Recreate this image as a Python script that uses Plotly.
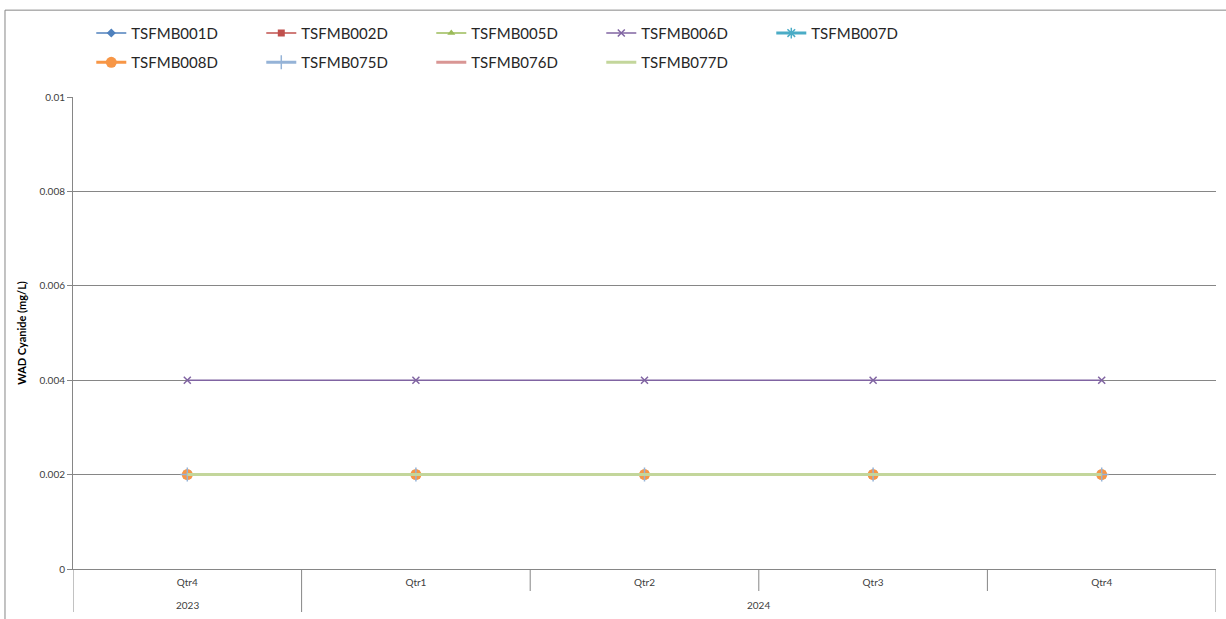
import plotly.graph_objects as go

# Sampling periods (year, quarter)
years = ["2023", "2024", "2024", "2024", "2024"]
quarters = ["Qtr4", "Qtr1", "Qtr2", "Qtr3", "Qtr4"]

# WAD cyanide results per monitoring bore (mg/L)
TSFMB001D = [0.002, 0.002, 0.002, 0.002, 0.002]
TSFMB002D = [0.002, 0.002, 0.002, 0.002, 0.002]
TSFMB005D = [0.002, 0.002, 0.002, 0.002, 0.002]
TSFMB006D = [0.004, 0.004, 0.004, 0.004, 0.004]
TSFMB007D = [0.002, 0.002, 0.002, 0.002, 0.002]
TSFMB008D = [0.002, 0.002, 0.002, 0.002, 0.002]
TSFMB075D = [0.002, 0.002, 0.002, 0.002, 0.002]
TSFMB076D = [0.002, 0.002, 0.002, 0.002, 0.002]
TSFMB077D = [0.002, 0.002, 0.002, 0.002, 0.002]

yticks = [0, 0.002, 0.004, 0.006, 0.008, 0.01]
ytick_text = ["0", "0.002", "0.004", "0.006", "0.008", "0.01"]

series = [
    ("TSFMB001D", TSFMB001D, "#4F81BD", 1.5, dict(symbol="diamond", size=7), "legend"),
    ("TSFMB002D", TSFMB002D, "#C0504D", 1.5, dict(symbol="square", size=7), "legend"),
    ("TSFMB005D", TSFMB005D, "#9BBB59", 1.5, dict(symbol="triangle-up", size=7), "legend"),
    ("TSFMB006D", TSFMB006D, "#8064A2", 1.5, dict(symbol="x-thin-open", size=7, line=dict(width=1.5, color="#8064A2")), "legend"),
    ("TSFMB007D", TSFMB007D, "#4BACC6", 3, dict(symbol="asterisk-open", size=9, line=dict(width=1.5, color="#4BACC6")), "legend"),
    ("TSFMB008D", TSFMB008D, "#F79646", 3, dict(symbol="circle", size=11), "legend2"),
    ("TSFMB075D", TSFMB075D, "#95B3D7", 3, dict(symbol="cross-thin-open", size=10, line=dict(width=1.5, color="#95B3D7")), "legend2"),
    ("TSFMB076D", TSFMB076D, "#D99694", 3, None, "legend2"),
    ("TSFMB077D", TSFMB077D, "#C3D69B", 3, None, "legend2"),
]

# category index along the x axis
idx = list(range(len(quarters)))

fig = go.Figure()
for name, vals, color, lw, marker, lg in series:
    fig.add_trace(go.Scatter(
        x=idx, y=vals, name=name, legend=lg,
        mode="lines+markers" if marker else "lines",
        line=dict(color=color, width=lw),
        marker=dict(color=color, **marker) if marker else None,
    ))

font = "Lato, 'Open Sans', sans-serif"
axis_grey = "#868686"
plot_h = 472  # plot area height in px, used for paper offsets below the axis

# two-level category axis: separators and year labels
shapes = []
annotations = []
inner_depth = -22 / plot_h
outer_depth = -43 / plot_h
for i in range(1, len(idx)):
    is_year_break = years[i] != years[i - 1]
    shapes.append(dict(type="line", xref="x", yref="paper",
                       x0=i - 0.5, x1=i - 0.5, y0=0,
                       y1=outer_depth if is_year_break else inner_depth,
                       line=dict(color=axis_grey, width=1)))
for edge in (idx[0] - 0.5, idx[-1] + 0.5):
    shapes.append(dict(type="line", xref="x", yref="paper",
                       x0=edge, x1=edge, y0=0, y1=outer_depth,
                       line=dict(color=axis_grey, width=1)))
for yr in dict.fromkeys(years):
    members = [i for i in idx if years[i] == yr]
    annotations.append(dict(xref="x", yref="paper",
                            x=sum(members) / len(members), y=-36 / plot_h,
                            text=yr, showarrow=False, yanchor="middle",
                            font=dict(family=font, size=10, color="#404040")))

# outer chart border
shapes.append(dict(type="rect", xref="paper", yref="paper",
                   x0=-0.0595, x1=1.2, y0=-0.3, y1=1.184,
                   line=dict(color=axis_grey, width=1), layer="below"))

legend_style = dict(
    orientation="h", xanchor="left", yanchor="middle",
    entrywidth=125, entrywidthmode="pixels",
    font=dict(family=font, size=15, color="#262626"),
    bgcolor="rgba(0,0,0,0)", itemwidth=30,
)

fig.update_layout(
    width=1226, height=619,
    margin=dict(l=73, r=10, t=97, b=50),
    paper_bgcolor="white", plot_bgcolor="white",
    showlegend=True,
    legend=dict(x=0.016, y=1.135, **legend_style),
    legend2=dict(x=0.016, y=1.073, **legend_style),
    xaxis=dict(
        range=[-0.5, 4.5], tickvals=idx, ticktext=quarters,
        showline=True, linecolor=axis_grey, linewidth=1,
        showgrid=False, zeroline=False, ticks="",
        ticklabelstandoff=4,
        tickfont=dict(family=font, size=10, color="#404040"),
    ),
    yaxis=dict(
        range=[0, 0.01], tickvals=yticks, ticktext=ytick_text,
        showgrid=True, gridcolor=axis_grey, gridwidth=1,
        showline=True, linecolor=axis_grey, linewidth=1,
        ticks="outside", ticklen=5, tickcolor=axis_grey,
        zeroline=False,
        tickfont=dict(family=font, size=10, color="#404040"),
        title=dict(text="<b>WAD Cyanide (mg/L)</b>", font=dict(family=font, size=11, color="#000000"), standoff=10),
    ),
    shapes=shapes,
    annotations=annotations,
)

fig.write_html("out.html")
